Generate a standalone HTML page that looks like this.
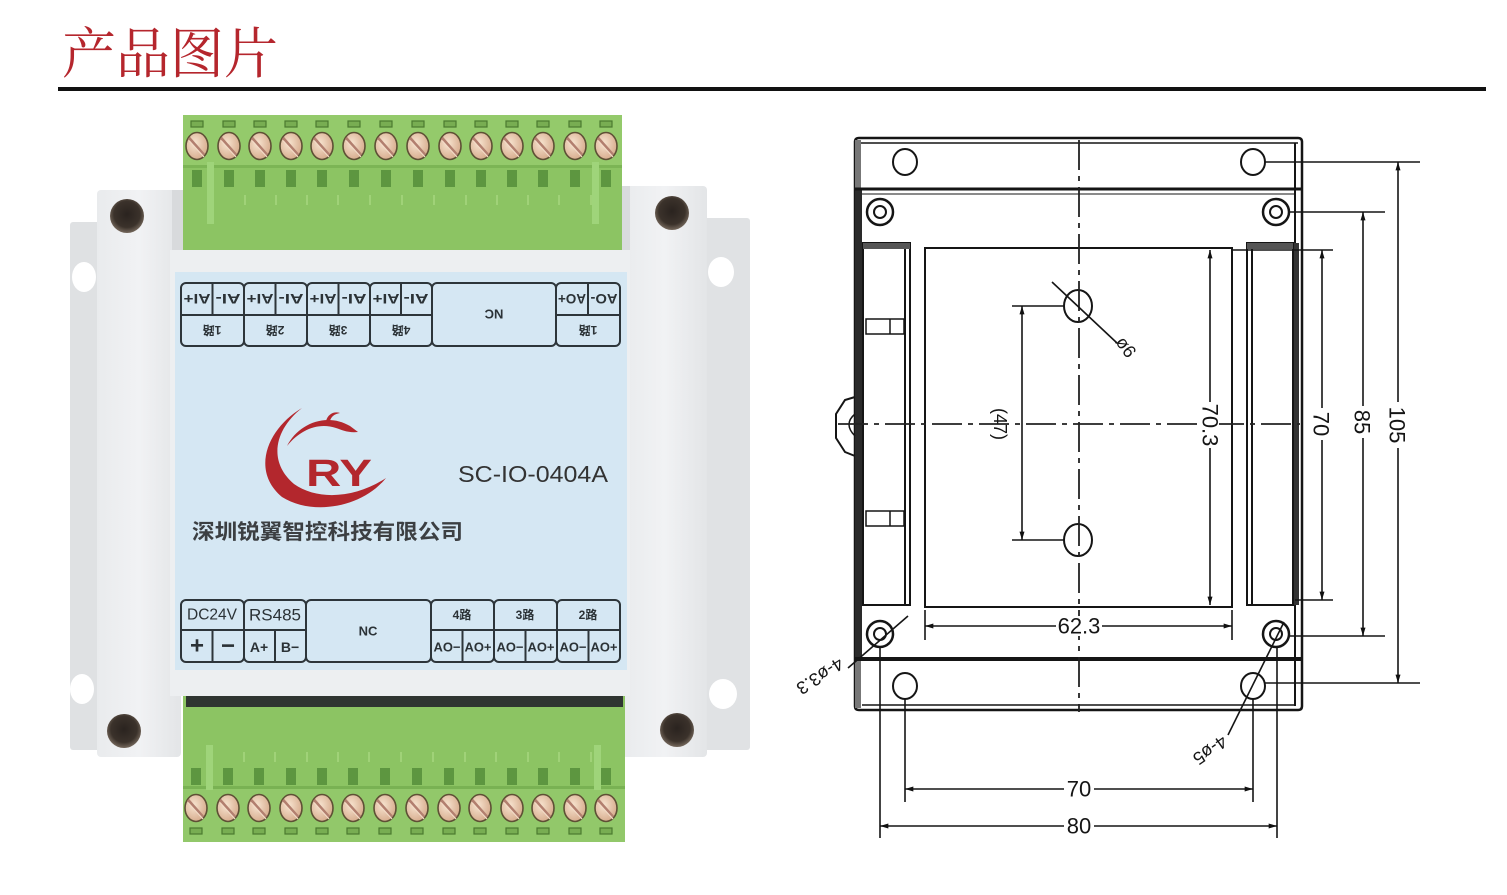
<!DOCTYPE html>
<html><head><meta charset="utf-8">
<style>
html,body{margin:0;padding:0;background:#fff;}
svg{display:block}
</style></head><body>
<svg width="1507" height="895" viewBox="0 0 1507 895" xmlns="http://www.w3.org/2000/svg">
<defs>
 <radialGradient id="hole" cx="50%" cy="45%" r="55%">
   <stop offset="0" stop-color="#2a231f"/><stop offset="0.7" stop-color="#3b322b"/><stop offset="1" stop-color="#75685c"/>
 </radialGradient>
 <radialGradient id="scr" cx="40%" cy="40%" r="60%">
   <stop offset="0" stop-color="#f7e4d0"/><stop offset="1" stop-color="#d8ae90"/>
 </radialGradient>
 <linearGradient id="col" x1="0" x2="1" y1="0" y2="0">
   <stop offset="0" stop-color="#e9ebed"/><stop offset="0.5" stop-color="#f1f2f4"/><stop offset="1" stop-color="#e3e5e7"/>
 </linearGradient>
 <g id="screw">
   <ellipse cx="0" cy="0" rx="11" ry="13.5" fill="url(#scr)" stroke="#5e5035" stroke-width="1.6"/>
   <line x1="-8" y1="-8" x2="7" y2="9" stroke="#b27f6f" stroke-width="3"/>
   <line x1="-8" y1="-5.5" x2="7" y2="11" stroke="#f3dcc8" stroke-width="1.2"/>
 </g>
 <g id="slot"><rect x="-6" y="-3" width="12" height="6" fill="#78ad52" stroke="#4b7a30" stroke-width="1.2"/></g>
 <marker id="ar" viewBox="0 0 10 6" refX="10" refY="3" markerWidth="10" markerHeight="5" orient="auto-start-reverse" markerUnits="userSpaceOnUse"><path d="M0,0 L10,3 L0,6 z" fill="#111"/></marker>
</defs>

<!-- Title -->
<text x="62" y="73" font-family="'Noto Serif CJK SC',serif" font-size="55" fill="#b5262d" textLength="216" lengthAdjust="spacingAndGlyphs">产品图片</text>
<rect x="58" y="87" width="1428" height="4" fill="#111"/>

<!-- ================= DEVICE ================= -->
<rect x="70" y="222" width="34" height="528" rx="3" fill="#dfe1e3"/>
<rect x="700" y="218" width="50" height="532" rx="3" fill="#e0e2e4"/>
<ellipse cx="84" cy="277" rx="12" ry="15" fill="#fff"/>
<ellipse cx="82" cy="689" rx="12" ry="15" fill="#fff"/>
<ellipse cx="721" cy="272" rx="13" ry="15" fill="#fff"/>
<ellipse cx="723" cy="694" rx="14" ry="15" fill="#fff"/>
<rect x="97" y="190" width="84" height="567" rx="4" fill="url(#col)"/>
<rect x="172" y="190" width="12" height="62" fill="#d8dadc"/>
<rect x="622" y="186" width="85" height="571" rx="4" fill="url(#col)"/>
<rect x="622" y="186" width="8" height="66" fill="#d9dbdd"/>

<!-- top green block -->
<rect x="183" y="115" width="439" height="137" fill="#8cc463"/>
<rect x="183" y="115" width="439" height="50" fill="#94ca6b"/>
<rect x="183" y="165" width="439" height="3" fill="#7cb555"/>
<g>
 <use href="#slot" x="197" y="124"/><use href="#slot" x="229" y="124"/><use href="#slot" x="260" y="124"/><use href="#slot" x="291" y="124"/><use href="#slot" x="322" y="124"/><use href="#slot" x="354" y="124"/><use href="#slot" x="386" y="124"/><use href="#slot" x="418" y="124"/><use href="#slot" x="450" y="124"/><use href="#slot" x="481" y="124"/><use href="#slot" x="512" y="124"/><use href="#slot" x="543" y="124"/><use href="#slot" x="575" y="124"/><use href="#slot" x="606" y="124"/>
</g>
<g>
 <use href="#screw" x="197" y="146"/><use href="#screw" x="229" y="146"/><use href="#screw" x="260" y="146"/><use href="#screw" x="291" y="146"/><use href="#screw" x="322" y="146"/><use href="#screw" x="354" y="146"/><use href="#screw" x="386" y="146"/><use href="#screw" x="418" y="146"/><use href="#screw" x="450" y="146"/><use href="#screw" x="481" y="146"/><use href="#screw" x="512" y="146"/><use href="#screw" x="543" y="146"/><use href="#screw" x="575" y="146"/><use href="#screw" x="606" y="146"/>
</g>
<g fill="#5d9640">
 <rect x="192" y="170" width="10" height="17"/><rect x="224" y="170" width="10" height="17"/><rect x="255" y="170" width="10" height="17"/><rect x="286" y="170" width="10" height="17"/><rect x="317" y="170" width="10" height="17"/><rect x="349" y="170" width="10" height="17"/><rect x="381" y="170" width="10" height="17"/><rect x="413" y="170" width="10" height="17"/><rect x="445" y="170" width="10" height="17"/><rect x="476" y="170" width="10" height="17"/><rect x="507" y="170" width="10" height="17"/><rect x="538" y="170" width="10" height="17"/><rect x="570" y="170" width="10" height="17"/><rect x="601" y="170" width="10" height="17"/>
</g>
<g stroke="#a6d680" stroke-width="1.5">
 <line x1="213" y1="195" x2="213" y2="205"/><line x1="245" y1="195" x2="245" y2="205"/><line x1="276" y1="195" x2="276" y2="205"/><line x1="307" y1="195" x2="307" y2="205"/><line x1="338" y1="195" x2="338" y2="205"/><line x1="370" y1="195" x2="370" y2="205"/><line x1="402" y1="195" x2="402" y2="205"/><line x1="434" y1="195" x2="434" y2="205"/><line x1="466" y1="195" x2="466" y2="205"/><line x1="497" y1="195" x2="497" y2="205"/><line x1="528" y1="195" x2="528" y2="205"/><line x1="559" y1="195" x2="559" y2="205"/><line x1="591" y1="195" x2="591" y2="205"/>
</g>
<rect x="207" y="162" width="7" height="62" fill="#9fd47a"/>
<rect x="592" y="162" width="7" height="62" fill="#9fd47a"/>

<!-- bottom green block -->
<rect x="183" y="695" width="442" height="147" fill="#8cc463"/>
<rect x="186" y="695" width="437" height="12" fill="#2f3531"/>
<rect x="183" y="788" width="442" height="54" fill="#92c86a"/>
<rect x="183" y="786" width="442" height="3" fill="#79b253"/>
<g fill="#5d9640">
 <rect x="191" y="768" width="10" height="17"/><rect x="223" y="768" width="10" height="17"/><rect x="254" y="768" width="10" height="17"/><rect x="286" y="768" width="10" height="17"/><rect x="317" y="768" width="10" height="17"/><rect x="348" y="768" width="10" height="17"/><rect x="380" y="768" width="10" height="17"/><rect x="412" y="768" width="10" height="17"/><rect x="444" y="768" width="10" height="17"/><rect x="475" y="768" width="10" height="17"/><rect x="507" y="768" width="10" height="17"/><rect x="538" y="768" width="10" height="17"/><rect x="570" y="768" width="10" height="17"/><rect x="601" y="768" width="10" height="17"/>
</g>
<g stroke="#a6d680" stroke-width="1.5">
 <line x1="212" y1="752" x2="212" y2="762"/><line x1="244" y1="752" x2="244" y2="762"/><line x1="275" y1="752" x2="275" y2="762"/><line x1="307" y1="752" x2="307" y2="762"/><line x1="338" y1="752" x2="338" y2="762"/><line x1="369" y1="752" x2="369" y2="762"/><line x1="401" y1="752" x2="401" y2="762"/><line x1="433" y1="752" x2="433" y2="762"/><line x1="465" y1="752" x2="465" y2="762"/><line x1="496" y1="752" x2="496" y2="762"/><line x1="528" y1="752" x2="528" y2="762"/><line x1="559" y1="752" x2="559" y2="762"/><line x1="591" y1="752" x2="591" y2="762"/>
</g>
<rect x="206" y="745" width="7" height="45" fill="#9fd47a"/>
<rect x="594" y="745" width="7" height="45" fill="#9fd47a"/>
<g>
 <use href="#screw" x="196" y="808"/><use href="#screw" x="228" y="808"/><use href="#screw" x="259" y="808"/><use href="#screw" x="291" y="808"/><use href="#screw" x="322" y="808"/><use href="#screw" x="353" y="808"/><use href="#screw" x="385" y="808"/><use href="#screw" x="417" y="808"/><use href="#screw" x="449" y="808"/><use href="#screw" x="480" y="808"/><use href="#screw" x="512" y="808"/><use href="#screw" x="543" y="808"/><use href="#screw" x="575" y="808"/><use href="#screw" x="606" y="808"/>
</g>
<g>
 <use href="#slot" x="196" y="831"/><use href="#slot" x="228" y="831"/><use href="#slot" x="259" y="831"/><use href="#slot" x="291" y="831"/><use href="#slot" x="322" y="831"/><use href="#slot" x="353" y="831"/><use href="#slot" x="385" y="831"/><use href="#slot" x="417" y="831"/><use href="#slot" x="449" y="831"/><use href="#slot" x="480" y="831"/><use href="#slot" x="512" y="831"/><use href="#slot" x="543" y="831"/><use href="#slot" x="575" y="831"/><use href="#slot" x="606" y="831"/>
</g>

<!-- front frame and label -->
<rect x="170" y="250" width="460" height="446" fill="#edeff1"/>
<rect x="175" y="272" width="452" height="398" fill="#d5e7f3"/>

<!-- holes -->
<circle cx="127" cy="216" r="17" fill="url(#hole)"/>
<circle cx="124" cy="731" r="17" fill="url(#hole)"/>
<circle cx="672" cy="213" r="17" fill="url(#hole)"/>
<circle cx="677" cy="730" r="17" fill="url(#hole)"/>

<!-- top label table -->
<g fill="none" stroke="#2d353a" stroke-width="2">
 <rect x="181" y="283" width="63" height="63" rx="5"/><rect x="244" y="283" width="63" height="63" rx="5"/><rect x="307" y="283" width="63" height="63" rx="5"/><rect x="370" y="283" width="62" height="63" rx="5"/><rect x="432" y="283" width="124" height="63" rx="5"/><rect x="556" y="283" width="64" height="63" rx="5"/>
 <line x1="181" y1="315" x2="432" y2="315"/><line x1="556" y1="315" x2="620" y2="315"/>
 <line x1="212.5" y1="283" x2="212.5" y2="315"/><line x1="275.5" y1="283" x2="275.5" y2="315"/><line x1="338.5" y1="283" x2="338.5" y2="315"/><line x1="401" y1="283" x2="401" y2="315"/><line x1="588" y1="283" x2="588" y2="315"/>
</g>
<g font-family="'Liberation Sans','Noto Sans CJK SC',sans-serif" font-weight="bold" fill="#2b3236" text-anchor="middle" dominant-baseline="central">
 <text x="197" y="299" font-size="14" textLength="27" lengthAdjust="spacingAndGlyphs" transform="rotate(180 197 299)">AI+</text>
 <text x="228" y="299" font-size="14" textLength="25" lengthAdjust="spacingAndGlyphs" transform="rotate(180 228 299)">AI-</text>
 <text x="260" y="299" font-size="14" textLength="27" lengthAdjust="spacingAndGlyphs" transform="rotate(180 260 299)">AI+</text>
 <text x="291" y="299" font-size="14" textLength="25" lengthAdjust="spacingAndGlyphs" transform="rotate(180 291 299)">AI-</text>
 <text x="323" y="299" font-size="14" textLength="27" lengthAdjust="spacingAndGlyphs" transform="rotate(180 323 299)">AI+</text>
 <text x="354" y="299" font-size="14" textLength="25" lengthAdjust="spacingAndGlyphs" transform="rotate(180 354 299)">AI-</text>
 <text x="386" y="299" font-size="14" textLength="27" lengthAdjust="spacingAndGlyphs" transform="rotate(180 386 299)">AI+</text>
 <text x="416" y="299" font-size="14" textLength="25" lengthAdjust="spacingAndGlyphs" transform="rotate(180 416 299)">AI-</text>
 <text x="572" y="299" font-size="14" textLength="28" lengthAdjust="spacingAndGlyphs" transform="rotate(180 572 299)">AO+</text>
 <text x="604" y="299" font-size="14" textLength="27" lengthAdjust="spacingAndGlyphs" transform="rotate(180 604 299)">AO-</text>
 <text x="212" y="330" font-size="12" transform="rotate(180 212 330)">1路</text>
 <text x="275" y="330" font-size="12" transform="rotate(180 275 330)">2路</text>
 <text x="338" y="330" font-size="12" transform="rotate(180 338 330)">3路</text>
 <text x="401" y="330" font-size="12" transform="rotate(180 401 330)">4路</text>
 <text x="588" y="330" font-size="12" transform="rotate(180 588 330)">1路</text>
 <text x="494" y="314" font-size="13" transform="rotate(180 494 314)">NC</text>
</g>

<!-- bottom label table -->
<g fill="none" stroke="#2d353a" stroke-width="2">
 <rect x="181" y="600" width="63" height="62" rx="5"/><rect x="244" y="600" width="62" height="62" rx="5"/><rect x="306" y="600" width="125" height="62" rx="5"/><rect x="431" y="600" width="63" height="62" rx="5"/><rect x="494" y="600" width="63" height="62" rx="5"/><rect x="557" y="600" width="63" height="62" rx="5"/>
 <line x1="181" y1="630" x2="306" y2="630"/><line x1="431" y1="630" x2="620" y2="630"/>
 <line x1="212.5" y1="630" x2="212.5" y2="662"/><line x1="275" y1="630" x2="275" y2="662"/><line x1="462.5" y1="630" x2="462.5" y2="662"/><line x1="525.5" y1="630" x2="525.5" y2="662"/><line x1="588.5" y1="630" x2="588.5" y2="662"/>
</g>
<g font-family="'Liberation Sans','Noto Sans CJK SC',sans-serif" fill="#2b3236" text-anchor="middle" dominant-baseline="central">
 <text x="212" y="615" font-size="16" textLength="50" lengthAdjust="spacingAndGlyphs">DC24V</text>
 <text x="275" y="615" font-size="17" textLength="52" lengthAdjust="spacingAndGlyphs">RS485</text>
 <text x="197" y="646" font-size="24" font-weight="bold">+</text>
 <text x="228" y="646" font-size="24" font-weight="bold">−</text>
 <text x="259" y="647" font-size="14" font-weight="bold">A+</text>
 <text x="290" y="647" font-size="14" font-weight="bold">B−</text>
 <text x="368" y="631" font-size="13" font-weight="bold">NC</text>
 <text x="462" y="615" font-size="12" font-weight="bold">4路</text>
 <text x="525" y="615" font-size="12" font-weight="bold">3路</text>
 <text x="588" y="615" font-size="12" font-weight="bold">2路</text>
 <text x="447" y="647" font-size="13" font-weight="bold" textLength="27" lengthAdjust="spacingAndGlyphs">AO−</text>
 <text x="478" y="647" font-size="13" font-weight="bold" textLength="27" lengthAdjust="spacingAndGlyphs">AO+</text>
 <text x="510" y="647" font-size="13" font-weight="bold" textLength="27" lengthAdjust="spacingAndGlyphs">AO−</text>
 <text x="541" y="647" font-size="13" font-weight="bold" textLength="27" lengthAdjust="spacingAndGlyphs">AO+</text>
 <text x="573" y="647" font-size="13" font-weight="bold" textLength="27" lengthAdjust="spacingAndGlyphs">AO−</text>
 <text x="604" y="647" font-size="13" font-weight="bold" textLength="27" lengthAdjust="spacingAndGlyphs">AO+</text>
</g>

<!-- logo -->
<g fill="#b3272d">
 <path d="M302 408 C268 428 250 470 282 497 C312 516 362 508 386 478 C356 498 318 501 294 484 C268 462 274 430 302 408 Z"/>
 <path d="M287 446 C298 424 326 412 350 426 L358 432 C348 433 342 430 336 428 C318 422 300 430 287 446 Z"/>
 <path d="M326 421 C328 414 334 411 340 413 C334 414 331 417 330 421 Z"/>
 <text x="306" y="486" font-family="'Liberation Sans',sans-serif" font-weight="bold" font-size="38" textLength="66" lengthAdjust="spacingAndGlyphs">RY</text>
</g>
<text x="458" y="482" font-family="'Liberation Sans',sans-serif" font-size="23" fill="#333" textLength="150" lengthAdjust="spacingAndGlyphs">SC-IO-0404A</text>
<text x="192" y="539" font-family="'Liberation Sans','Noto Sans CJK SC',sans-serif" font-weight="bold" font-size="21" fill="#3c3f42" textLength="271" lengthAdjust="spacingAndGlyphs">深圳锐翼智控科技有限公司</text>

<!-- ================= DRAWING ================= -->
<g stroke="#151515" fill="none" stroke-width="2">
 <path d="M859 138 H1298 Q1302 138 1302 142 V706 Q1302 710 1298 710 H859 Q855 710 855 706 V142 Q855 138 859 138 Z" stroke-width="2.5"/>
 <line x1="860" y1="143" x2="1298" y2="143" stroke-width="1.5"/>
 <rect x="855" y="190" width="7" height="470" fill="#2a2a2a" stroke="none"/>
 <rect x="855" y="140" width="6" height="50" fill="#777" stroke="none"/>
 <rect x="855" y="660" width="6" height="48" fill="#777" stroke="none"/>
 <line x1="1295" y1="143" x2="1295" y2="706" stroke-width="2"/>
 <rect x="1294" y="243" width="5" height="362" fill="#333" stroke="none"/>
 <line x1="855" y1="189" x2="1302" y2="189" stroke-width="3"/>
 <line x1="862" y1="194" x2="1295" y2="194" stroke-width="1"/>
 <line x1="855" y1="659" x2="1302" y2="659" stroke-width="4"/>
 <line x1="862" y1="705" x2="1295" y2="705" stroke-width="1.5"/>
 <ellipse cx="905" cy="162" rx="12" ry="13"/>
 <ellipse cx="1253" cy="162" rx="12" ry="13"/>
 <ellipse cx="905" cy="686" rx="12" ry="13"/>
 <ellipse cx="1253" cy="686" rx="12" ry="13"/>
 <circle cx="880" cy="212" r="13" stroke-width="2.5"/><circle cx="880" cy="212" r="6"/>
 <circle cx="1276" cy="212" r="13" stroke-width="2.5"/><circle cx="1276" cy="212" r="6"/>
 <circle cx="880" cy="634" r="13" stroke-width="2.5"/><circle cx="880" cy="634" r="6"/>
 <circle cx="1276" cy="634" r="13" stroke-width="2.5"/><circle cx="1276" cy="634" r="6"/>
 <rect x="863" y="243" width="47" height="362"/>
 <line x1="905" y1="243" x2="905" y2="605"/>
 <rect x="863" y="243" width="47" height="6" fill="#555" stroke="none"/>
 <rect x="1247" y="243" width="46" height="362"/>
 <line x1="1252" y1="243" x2="1252" y2="605"/>
 <rect x="1247" y="243" width="46" height="6" fill="#555" stroke="none"/>
 <rect x="925" y="248" width="307" height="359"/>
 <rect x="866" y="319" width="38" height="15" stroke-width="1.5"/><line x1="890" y1="319" x2="890" y2="334" stroke-width="1.5"/>
 <rect x="866" y="511" width="38" height="15" stroke-width="1.5"/><line x1="890" y1="511" x2="890" y2="526" stroke-width="1.5"/>
 <path d="M855 397 L845 400 L836 414 L836 438 L845 452 L855 456" stroke-width="2"/>
 <path d="M855 414 Q843 424 855 436" stroke-width="1.5"/>
 <ellipse cx="1078" cy="306" rx="14" ry="16"/>
 <ellipse cx="1078" cy="540" rx="14" ry="16"/>
</g>
<g stroke="#222" stroke-width="1.8" fill="none" stroke-dasharray="30 6 5 6">
 <line x1="1079" y1="140" x2="1079" y2="712"/>
 <line x1="838" y1="424" x2="1300" y2="424"/>
</g>
<g stroke="#151515" stroke-width="1.6" fill="none">
 <line x1="1012" y1="306" x2="1064" y2="306"/><line x1="1012" y1="540" x2="1064" y2="540"/>
 <line x1="1022" y1="306" x2="1022" y2="540" marker-start="url(#ar)" marker-end="url(#ar)"/>
 <line x1="1052" y1="282" x2="1117" y2="343"/>
 <line x1="1210" y1="250" x2="1210" y2="605" marker-start="url(#ar)" marker-end="url(#ar)"/>
 <line x1="1232" y1="250" x2="1333" y2="250"/><line x1="1295" y1="600" x2="1333" y2="600"/>
 <line x1="1322" y1="250" x2="1322" y2="600" marker-start="url(#ar)" marker-end="url(#ar)"/>
 <line x1="1290" y1="212" x2="1385" y2="212"/><line x1="1290" y1="636" x2="1385" y2="636"/>
 <line x1="1363" y1="212" x2="1363" y2="636" marker-start="url(#ar)" marker-end="url(#ar)"/>
 <line x1="1265" y1="162" x2="1420" y2="162"/><line x1="1265" y1="683" x2="1420" y2="683"/>
 <line x1="1398" y1="162" x2="1398" y2="683" marker-start="url(#ar)" marker-end="url(#ar)"/>
 <line x1="925" y1="610" x2="925" y2="640"/><line x1="1232" y1="610" x2="1232" y2="640"/>
 <line x1="925" y1="626" x2="1232" y2="626" marker-start="url(#ar)" marker-end="url(#ar)"/>
 <line x1="905" y1="698" x2="905" y2="802"/><line x1="1253" y1="698" x2="1253" y2="802"/>
 <line x1="905" y1="789" x2="1253" y2="789" marker-start="url(#ar)" marker-end="url(#ar)"/>
 <line x1="880" y1="648" x2="880" y2="838"/><line x1="1277" y1="648" x2="1277" y2="838"/>
 <line x1="880" y1="826" x2="1277" y2="826" marker-start="url(#ar)" marker-end="url(#ar)"/>
 <line x1="908" y1="616" x2="848" y2="668"/>
 <line x1="1284" y1="622" x2="1228" y2="735"/>
</g>
<g fill="#fff">
 <rect x="1201" y="402" width="18" height="46"/>
 <rect x="1312" y="408" width="18" height="32"/>
 <rect x="1353" y="406" width="18" height="32"/>
 <rect x="1388" y="402" width="19" height="46"/>
 <rect x="1056" y="616" width="46" height="20"/>
 <rect x="1064" y="779" width="30" height="20"/>
 <rect x="1064" y="816" width="30" height="20"/>
</g>
<g font-family="'Liberation Sans',sans-serif" font-size="22" fill="#151515" text-anchor="middle" dominant-baseline="central">
 <text x="1210" y="425" transform="rotate(90 1210 425)">70.3</text>
 <text x="1321" y="424" transform="rotate(90 1321 424)">70</text>
 <text x="1362" y="422" transform="rotate(90 1362 422)">85</text>
 <text x="1397" y="425" transform="rotate(90 1397 425)">105</text>
 <text x="1079" y="626">62.3</text>
 <text x="1079" y="789">70</text>
 <text x="1079" y="826">80</text>
 <text x="1000" y="424" font-size="18" transform="rotate(90 1000 424)">(47)</text>
 <text x="1126" y="347" font-size="18" transform="rotate(55 1126 347)">ø6</text>
 <text x="820" y="676" font-size="18" transform="rotate(147 820 676)">4-ø3.3</text>
 <text x="1210" y="750" font-size="18" transform="rotate(145 1210 750)">4-ø5</text>
</g>
</svg>
</body></html>
